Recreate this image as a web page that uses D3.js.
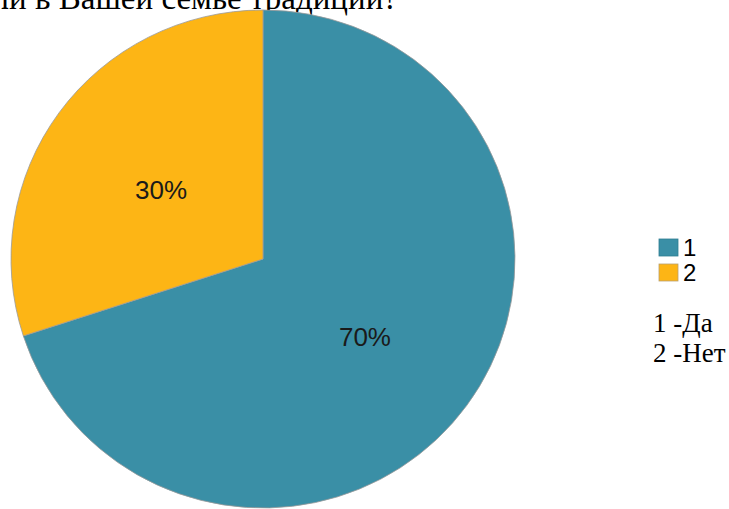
<!DOCTYPE html>
<html><head><meta charset="utf-8">
<script src="https://cdn.jsdelivr.net/npm/d3@7"></script>
<style>html,body{margin:0;padding:0;background:#fff;overflow:hidden}</style>
</head><body>
<svg id="c" width="729" height="509"></svg>
<script>
const title = "Есть ли в Вашей семье традиции?";
const categories = ["1", "2"];
const values = [70, 30];
const colors = ["#3a8fa6", "#fdb515"];
const notes = ["1 -Да", "2 -Нет"];

const svg = d3.select("#c");
const cx = 263, cy = 259, r = 252, sy = 249 / 252;

svg.append("text")
  .attr("x", 398).attr("y", 9)
  .attr("text-anchor", "end")
  .attr("font-family", "Liberation Serif, Times New Roman, serif")
  .attr("font-size", 33)
  .attr("fill", "#000")
  .text(title);

const pie = d3.pie().sort(null).value(d => d)(values);
const arc = d3.arc().innerRadius(0).outerRadius(r);
const labelArc = d3.arc().innerRadius(126).outerRadius(126);

const g = svg.append("g").attr("transform", `translate(${cx},${cy}) scale(1,${sy})`);
g.selectAll("path").data(pie).join("path")
  .attr("d", arc)
  .attr("fill", (d, i) => colors[i])
  .attr("stroke", "#9a9a9a")
  .attr("stroke-width", 0.8);

const total = d3.sum(values);
svg.append("g").attr("transform", `translate(${cx},${cy + 4})`)
  .selectAll("text").data(pie).join("text")
  .attr("transform", d => { const [x, y] = labelArc.centroid(d); return `translate(${x},${y * sy})`; })
  .attr("text-anchor", "middle")
  .attr("dy", "0.36em")
  .attr("font-family", "Liberation Sans, Arial, sans-serif")
  .attr("font-size", 26)
  .attr("fill", "#1a1a1a")
  .text(d => Math.round(d.data / total * 100) + "%");

const leg = svg.append("g");
const ly = d3.scaleBand().domain(categories).range([238, 288]);
categories.forEach((c, i) => {
  leg.append("rect")
    .attr("x", 659).attr("y", ly(c) + 1)
    .attr("width", 19).attr("height", 17)
    .attr("fill", colors[i])
    .attr("stroke", i === 0 ? "#2f7d92" : "#b8a070")
    .attr("stroke-width", 0.8);
  leg.append("text")
    .attr("x", 683).attr("y", ly(c) + 18)
    .attr("font-family", "Liberation Sans, Arial, sans-serif")
    .attr("font-size", 24)
    .attr("fill", "#000")
    .text(c);
});

const ny = d3.scaleBand().domain(notes).range([302, 362]);
notes.forEach(n => {
  svg.append("text")
    .attr("x", 653).attr("y", ny(n) + 30)
    .attr("font-family", "Liberation Serif, Times New Roman, serif")
    .attr("font-size", 27)
    .attr("fill", "#000")
    .text(n);
});
</script>
</body></html>
